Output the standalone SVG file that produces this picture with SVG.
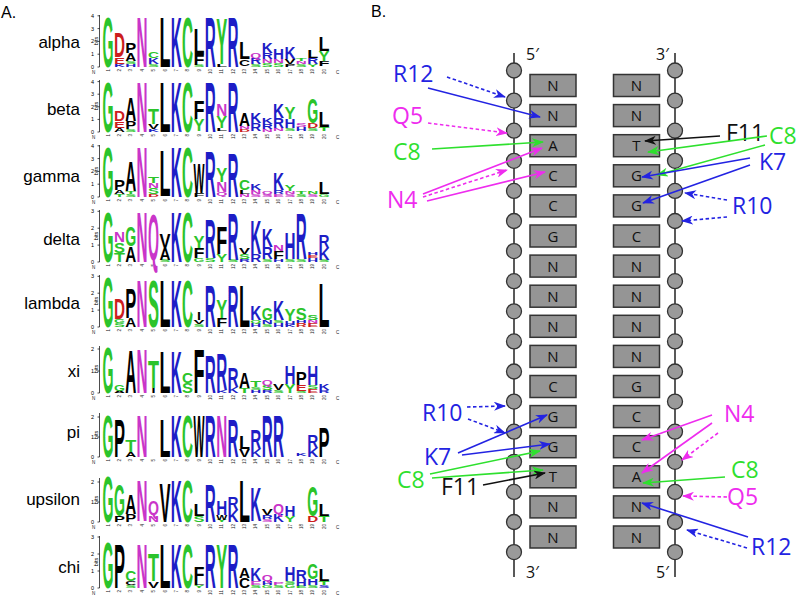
<svg xmlns="http://www.w3.org/2000/svg" xmlns:xlink="http://www.w3.org/1999/xlink" width="800" height="602" viewBox="0 0 800 602">
<style>
.lg text{font-family:"Liberation Sans",Arial,sans-serif;font-weight:bold;font-size:13.97px}
.g{fill:#2bc42b}.m{fill:#c935c9}.b{fill:#1d1dc6}.r{fill:#cc1d1d}.k{fill:#000}
.rl{font-family:"Liberation Sans",Arial,sans-serif;font-size:17px;fill:#000;text-anchor:end}
.ax{stroke:#000;stroke-width:0.7;fill:none}
.tl{font-family:"Liberation Sans",Arial,sans-serif;font-size:5.5px;fill:#000;text-anchor:end}
.pn text{font-family:"Liberation Sans",Arial,sans-serif;font-size:4.5px;fill:#222;text-anchor:end}
.pl{font-family:"Liberation Sans",Arial,sans-serif;font-size:16px;fill:#000}
.bb{stroke:#222;stroke-width:1.5}
.nt{fill:#9a9a9a;stroke:#333;stroke-width:1.3}
.bx{fill:#959595;stroke:#333;stroke-width:1.5}
.bt{font-family:"Open Sans","Liberation Sans",sans-serif;font-size:15px;fill:#111;text-anchor:middle}
.pr{font-family:"Open Sans","Liberation Sans",sans-serif;font-size:16px;fill:#111}
.lb{font-family:"Open Sans","Liberation Sans",sans-serif;font-size:23px}
.cb{fill:#2323e2}.cm{fill:#ee2cee}.cg{fill:#2ee02e}.ck{fill:#111}
.s{fill:none;stroke-width:1.6}
.d{stroke-dasharray:3.5 2.5}
.sb{stroke:#2323e2}.sm{stroke:#ee2cee}.sg{stroke:#2ee02e}.sk{stroke:#111}
</style>
<defs>
<marker id="ab" viewBox="0 0 12 9" refX="11" refY="4.5" markerWidth="12" markerHeight="9" markerUnits="userSpaceOnUse" orient="auto"><path d="M0,0 L12,4.5 L0,9 L3.5,4.5z" fill="#2323e2"/></marker>
<marker id="am" viewBox="0 0 12 9" refX="11" refY="4.5" markerWidth="12" markerHeight="9" markerUnits="userSpaceOnUse" orient="auto"><path d="M0,0 L12,4.5 L0,9 L3.5,4.5z" fill="#ee2cee"/></marker>
<marker id="ag" viewBox="0 0 12 9" refX="11" refY="4.5" markerWidth="12" markerHeight="9" markerUnits="userSpaceOnUse" orient="auto"><path d="M0,0 L12,4.5 L0,9 L3.5,4.5z" fill="#2ee02e"/></marker>
<marker id="ak" viewBox="0 0 12 9" refX="11" refY="4.5" markerWidth="12" markerHeight="9" markerUnits="userSpaceOnUse" orient="auto"><path d="M0,0 L12,4.5 L0,9 L3.5,4.5z" fill="#111"/></marker>
<g id="pn" class="pn">
<text transform="translate(109.6,2) rotate(-90)">1</text>
<text transform="translate(121,2) rotate(-90)">2</text>
<text transform="translate(132.3,2) rotate(-90)">3</text>
<text transform="translate(143.7,2) rotate(-90)">4</text>
<text transform="translate(155.1,2) rotate(-90)">5</text>
<text transform="translate(166.5,2) rotate(-90)">6</text>
<text transform="translate(177.8,2) rotate(-90)">7</text>
<text transform="translate(189.2,2) rotate(-90)">8</text>
<text transform="translate(200.6,2) rotate(-90)">9</text>
<text transform="translate(211.9,2) rotate(-90)">10</text>
<text transform="translate(223.3,2) rotate(-90)">11</text>
<text transform="translate(234.7,2) rotate(-90)">12</text>
<text transform="translate(246,2) rotate(-90)">13</text>
<text transform="translate(257.4,2) rotate(-90)">14</text>
<text transform="translate(268.8,2) rotate(-90)">15</text>
<text transform="translate(280.2,2) rotate(-90)">16</text>
<text transform="translate(291.5,2) rotate(-90)">17</text>
<text transform="translate(302.9,2) rotate(-90)">18</text>
<text transform="translate(314.3,2) rotate(-90)">19</text>
<text transform="translate(325.6,2) rotate(-90)">20</text>
<text x="92" y="6.5" style="text-anchor:start;font-size:4.5px">N</text>
<text x="336" y="7" style="text-anchor:start;font-size:4.5px">C</text>
</g>
</defs>
<rect width="800" height="602" fill="#fff"/>
<text class="pl" x="1" y="18">A.</text>
<text class="pl" x="371" y="17">B.</text>

<!-- Panel A row labels -->
<text class="rl" x="80" y="47.5">alpha</text>
<text class="rl" x="80" y="115">beta</text>
<text class="rl" x="80" y="182">gamma</text>
<text class="rl" x="80" y="245">delta</text>
<text class="rl" x="80" y="308.5">lambda</text>
<text class="rl" x="80" y="377">xi</text>
<text class="rl" x="80" y="438">pi</text>
<text class="rl" x="80" y="505">upsilon</text>
<text class="rl" x="80" y="573">chi</text>

<!-- axes -->
<g id="axes">
<path class="ax" d="M99.5,67V15M97.5,67h2M97.5,54.2h2M97.5,41.4h2M97.5,28.6h2M97.5,15.8h2"/>
<text class="tl" x="94" y="69">0</text><text class="tl" x="94" y="56.2">1</text><text class="tl" x="94" y="43.4">2</text><text class="tl" x="94" y="30.6">3</text><text class="tl" x="94" y="17.8">4</text>
<text class="tl" transform="translate(97.5,41) rotate(-90)" style="text-anchor:middle">bits</text>
<path class="ax" d="M99.5,132V80M97.5,132h2M97.5,119.4h2M97.5,106.8h2M97.5,94.2h2M97.5,81.6h2"/>
<text class="tl" x="94" y="134">0</text><text class="tl" x="94" y="121.4">1</text><text class="tl" x="94" y="108.8">2</text><text class="tl" x="94" y="96.2">3</text><text class="tl" x="94" y="83.6">4</text>
<text class="tl" transform="translate(97.5,106) rotate(-90)" style="text-anchor:middle">bits</text>
<path class="ax" d="M99.5,197V145M97.5,197h2M97.5,184.2h2M97.5,171.4h2M97.5,158.6h2M97.5,145.8h2"/>
<text class="tl" x="94" y="199">0</text><text class="tl" x="94" y="186.2">1</text><text class="tl" x="94" y="173.4">2</text><text class="tl" x="94" y="160.6">3</text><text class="tl" x="94" y="147.8">4</text>
<text class="tl" transform="translate(97.5,171) rotate(-90)" style="text-anchor:middle">bits</text>
<path class="ax" d="M99.5,262V210M97.5,262h2M97.5,245.1h2M97.5,228.2h2M97.5,211.3h2"/>
<text class="tl" x="94" y="264">0</text><text class="tl" x="94" y="247.1">1</text><text class="tl" x="94" y="230.2">2</text><text class="tl" x="94" y="213.3">3</text>
<text class="tl" transform="translate(97.5,236) rotate(-90)" style="text-anchor:middle">bits</text>
<path class="ax" d="M99.5,327V275M97.5,327h2M97.5,310.1h2M97.5,293.2h2M97.5,276.3h2"/>
<text class="tl" x="94" y="329">0</text><text class="tl" x="94" y="312.1">1</text><text class="tl" x="94" y="295.2">2</text><text class="tl" x="94" y="278.3">3</text>
<text class="tl" transform="translate(97.5,301) rotate(-90)" style="text-anchor:middle">bits</text>
<path class="ax" d="M99.5,393V346M97.5,393h2M97.5,371h2M97.5,349h2"/>
<text class="tl" x="94" y="395">0</text><text class="tl" x="94" y="373">1</text><text class="tl" x="94" y="351">2</text>
<text class="tl" transform="translate(97.5,369) rotate(-90)" style="text-anchor:middle">bits</text>
<path class="ax" d="M99.5,457V413M97.5,457h2M97.5,437h2M97.5,417h2"/>
<text class="tl" x="94" y="459">0</text><text class="tl" x="94" y="439">1</text><text class="tl" x="94" y="419">2</text>
<text class="tl" transform="translate(97.5,435) rotate(-90)" style="text-anchor:middle">bits</text>
<path class="ax" d="M99.5,522V478M97.5,522h2M97.5,502h2M97.5,482h2"/>
<text class="tl" x="94" y="524">0</text><text class="tl" x="94" y="504">1</text><text class="tl" x="94" y="484">2</text>
<text class="tl" transform="translate(97.5,500) rotate(-90)" style="text-anchor:middle">bits</text>
<path class="ax" d="M99.5,588V536M97.5,588h2M97.5,571h2M97.5,554h2M97.5,537h2"/>
<text class="tl" x="94" y="590">0</text><text class="tl" x="94" y="573">1</text><text class="tl" x="94" y="556">2</text><text class="tl" x="94" y="539">3</text>
<text class="tl" transform="translate(97.5,562) rotate(-90)" style="text-anchor:middle">bits</text>
</g>
<use xlink:href="#pn" href="#pn" transform="translate(0,67)"/>
<use xlink:href="#pn" href="#pn" transform="translate(0,132)"/>
<use xlink:href="#pn" href="#pn" transform="translate(0,197)"/>
<use xlink:href="#pn" href="#pn" transform="translate(0,262)"/>
<use xlink:href="#pn" href="#pn" transform="translate(0,327)"/>
<use xlink:href="#pn" href="#pn" transform="translate(0,393)"/>
<use xlink:href="#pn" href="#pn" transform="translate(0,457)"/>
<use xlink:href="#pn" href="#pn" transform="translate(0,522)"/>
<use xlink:href="#pn" href="#pn" transform="translate(0,588)"/>

<!-- alpha -->
<g id="logo-alpha" class="lg">
<text class="g" textLength="11" lengthAdjust="spacingAndGlyphs" transform="matrix(1 0 0 5.1 102.5 67)">G</text>
<text class="b" textLength="11" lengthAdjust="spacingAndGlyphs" transform="matrix(1 0 0 0.3 113.9 67)">K</text>
<text class="r" textLength="11" lengthAdjust="spacingAndGlyphs" transform="matrix(1 0 0 0.7 113.9 64)">E</text>
<text class="r" textLength="11" lengthAdjust="spacingAndGlyphs" transform="matrix(1 0 0 2.5 113.9 57)">D</text>
<text class="b" textLength="11" lengthAdjust="spacingAndGlyphs" transform="matrix(1 0 0 0.3 125.2 67)">H</text>
<text class="g" textLength="11" lengthAdjust="spacingAndGlyphs" transform="matrix(1 0 0 0.3 125.2 64)">S</text>
<text class="k" textLength="11" lengthAdjust="spacingAndGlyphs" transform="matrix(1 0 0 0.8 125.2 61)">A</text>
<text class="k" textLength="11" lengthAdjust="spacingAndGlyphs" transform="matrix(1 0 0 1.0 125.2 53)">P</text>
<text class="m" textLength="11" lengthAdjust="spacingAndGlyphs" transform="matrix(1 0 0 5.1 136.6 67)">N</text>
<text class="g" textLength="11" lengthAdjust="spacingAndGlyphs" transform="matrix(1 0 0 0.3 148 67)">S</text>
<text class="b" textLength="11" lengthAdjust="spacingAndGlyphs" transform="matrix(1 0 0 0.6 148 64)">K</text>
<text class="g" textLength="11" lengthAdjust="spacingAndGlyphs" transform="matrix(1 0 0 0.7 148 58)">C</text>
<text class="k" textLength="11" lengthAdjust="spacingAndGlyphs" transform="matrix(1 0 0 5.1 159.4 67)">L</text>
<text class="b" textLength="11" lengthAdjust="spacingAndGlyphs" transform="matrix(1 0 0 5.1 170.7 67)">K</text>
<text class="g" textLength="11" lengthAdjust="spacingAndGlyphs" transform="matrix(1 0 0 5.1 182.1 67)">C</text>
<text class="g" textLength="11" lengthAdjust="spacingAndGlyphs" transform="matrix(1 0 0 0.2 193.5 67)">S</text>
<text class="k" textLength="11" lengthAdjust="spacingAndGlyphs" transform="matrix(1 0 0 1.0 193.5 65)">F</text>
<text class="k" textLength="11" lengthAdjust="spacingAndGlyphs" transform="matrix(1 0 0 2.6 193.5 55)">L</text>
<text class="b" textLength="11" lengthAdjust="spacingAndGlyphs" transform="matrix(1 0 0 5.0 204.8 67)">R</text>
<text class="k" textLength="11" lengthAdjust="spacingAndGlyphs" transform="matrix(1 0 0 0.3 216.2 67)">L</text>
<text class="g" textLength="11" lengthAdjust="spacingAndGlyphs" transform="matrix(1 0 0 4.6 216.2 64)">Y</text>
<text class="b" textLength="11" lengthAdjust="spacingAndGlyphs" transform="matrix(1 0 0 5.0 227.6 67)">R</text>
<text class="k" textLength="11" lengthAdjust="spacingAndGlyphs" transform="matrix(1 0 0 0.7 238.9 66)">C</text>
<text class="k" textLength="11" lengthAdjust="spacingAndGlyphs" transform="matrix(1 0 0 1.7 238.9 59)">L</text>
<text class="g" textLength="11" lengthAdjust="spacingAndGlyphs" transform="matrix(1 0 0 0.3 250.3 67)">S</text>
<text class="b" textLength="11" lengthAdjust="spacingAndGlyphs" transform="matrix(1 0 0 0.6 250.3 64)">R</text>
<text class="m" textLength="11" lengthAdjust="spacingAndGlyphs" transform="matrix(1 0 0 0.5 250.3 58)">Q</text>
<text class="g" textLength="11" lengthAdjust="spacingAndGlyphs" transform="matrix(1 0 0 0.4 261.7 67)">S</text>
<text class="m" textLength="11" lengthAdjust="spacingAndGlyphs" transform="matrix(1 0 0 0.4 261.7 63)">N</text>
<text class="b" textLength="11" lengthAdjust="spacingAndGlyphs" transform="matrix(1 0 0 0.6 261.7 59)">R</text>
<text class="b" textLength="11" lengthAdjust="spacingAndGlyphs" transform="matrix(1 0 0 1.0 261.7 53)">K</text>
<text class="g" textLength="11" lengthAdjust="spacingAndGlyphs" transform="matrix(1 0 0 0.4 273.1 67)">S</text>
<text class="m" textLength="11" lengthAdjust="spacingAndGlyphs" transform="matrix(1 0 0 0.4 273.1 63)">N</text>
<text class="b" textLength="11" lengthAdjust="spacingAndGlyphs" transform="matrix(1 0 0 1.0 273.1 59)">H</text>
<text class="k" textLength="11" lengthAdjust="spacingAndGlyphs" transform="matrix(1 0 0 0.3 284.4 67)">P</text>
<text class="k" textLength="11" lengthAdjust="spacingAndGlyphs" transform="matrix(1 0 0 0.5 284.4 64)">V</text>
<text class="b" textLength="11" lengthAdjust="spacingAndGlyphs" transform="matrix(1 0 0 1.2 284.4 59)">K</text>
<text class="g" textLength="11" lengthAdjust="spacingAndGlyphs" transform="matrix(1 0 0 0.3 295.8 67)">S</text>
<text class="m" textLength="11" lengthAdjust="spacingAndGlyphs" transform="matrix(1 0 0 0.3 295.8 64)">N</text>
<text class="g" textLength="11" lengthAdjust="spacingAndGlyphs" transform="matrix(1 0 0 0.3 295.8 61)">T</text>
<text class="g" textLength="11" lengthAdjust="spacingAndGlyphs" transform="matrix(1 0 0 0.3 307.2 67)">Y</text>
<text class="b" textLength="11" lengthAdjust="spacingAndGlyphs" transform="matrix(1 0 0 0.6 307.2 64)">R</text>
<text class="k" textLength="11" lengthAdjust="spacingAndGlyphs" transform="matrix(1 0 0 0.8 307.2 58)">L</text>
<text class="k" textLength="11" lengthAdjust="spacingAndGlyphs" transform="matrix(1 0 0 0.5 318.5 66)">F</text>
<text class="g" textLength="11" lengthAdjust="spacingAndGlyphs" transform="matrix(1 0 0 1.0 318.5 61)">Y</text>
<text class="k" textLength="11" lengthAdjust="spacingAndGlyphs" transform="matrix(1 0 0 1.4 318.5 51)">L</text>
</g>

<!-- beta -->
<g id="logo-beta" class="lg">
<text class="g" textLength="11" lengthAdjust="spacingAndGlyphs" transform="matrix(1 0 0 5.0 102.5 132)">G</text>
<text class="k" textLength="11" lengthAdjust="spacingAndGlyphs" transform="matrix(1 0 0 0.4 113.9 132)">A</text>
<text class="r" textLength="11" lengthAdjust="spacingAndGlyphs" transform="matrix(1 0 0 0.7 113.9 128)">E</text>
<text class="r" textLength="11" lengthAdjust="spacingAndGlyphs" transform="matrix(1 0 0 1.0 113.9 121)">D</text>
<text class="g" textLength="11" lengthAdjust="spacingAndGlyphs" transform="matrix(1 0 0 0.3 125.2 132)">S</text>
<text class="k" textLength="11" lengthAdjust="spacingAndGlyphs" transform="matrix(1 0 0 0.8 125.2 129)">P</text>
<text class="k" textLength="11" lengthAdjust="spacingAndGlyphs" transform="matrix(1 0 0 2.4 125.2 121)">A</text>
<text class="m" textLength="11" lengthAdjust="spacingAndGlyphs" transform="matrix(1 0 0 5.0 136.6 132)">N</text>
<text class="b" textLength="11" lengthAdjust="spacingAndGlyphs" transform="matrix(1 0 0 0.3 148 132)">K</text>
<text class="k" textLength="11" lengthAdjust="spacingAndGlyphs" transform="matrix(1 0 0 0.5 148 129)">V</text>
<text class="g" textLength="11" lengthAdjust="spacingAndGlyphs" transform="matrix(1 0 0 1.6 148 124)">T</text>
<text class="k" textLength="11" lengthAdjust="spacingAndGlyphs" transform="matrix(1 0 0 5.0 159.4 132)">L</text>
<text class="b" textLength="11" lengthAdjust="spacingAndGlyphs" transform="matrix(1 0 0 5.0 170.7 132)">K</text>
<text class="g" textLength="11" lengthAdjust="spacingAndGlyphs" transform="matrix(1 0 0 5.0 182.1 132)">C</text>
<text class="g" textLength="11" lengthAdjust="spacingAndGlyphs" transform="matrix(1 0 0 1.2 193.5 131)">Y</text>
<text class="k" textLength="11" lengthAdjust="spacingAndGlyphs" transform="matrix(1 0 0 1.8 193.5 119)">F</text>
<text class="b" textLength="11" lengthAdjust="spacingAndGlyphs" transform="matrix(1 0 0 5.0 204.8 132)">R</text>
<text class="k" textLength="11" lengthAdjust="spacingAndGlyphs" transform="matrix(1 0 0 0.3 216.2 131)">L</text>
<text class="g" textLength="11" lengthAdjust="spacingAndGlyphs" transform="matrix(1 0 0 1.2 216.2 128)">Y</text>
<text class="m" textLength="11" lengthAdjust="spacingAndGlyphs" transform="matrix(1 0 0 1.2 216.2 116)">N</text>
<text class="b" textLength="11" lengthAdjust="spacingAndGlyphs" transform="matrix(1 0 0 5.0 227.6 132)">R</text>
<text class="r" textLength="11" lengthAdjust="spacingAndGlyphs" transform="matrix(1 0 0 0.3 238.9 132)">D</text>
<text class="m" textLength="11" lengthAdjust="spacingAndGlyphs" transform="matrix(1 0 0 0.3 238.9 129)">N</text>
<text class="k" textLength="11" lengthAdjust="spacingAndGlyphs" transform="matrix(1 0 0 1.3 238.9 126)">A</text>
<text class="b" textLength="11" lengthAdjust="spacingAndGlyphs" transform="matrix(1 0 0 0.8 250.3 131)">R</text>
<text class="b" textLength="11" lengthAdjust="spacingAndGlyphs" transform="matrix(1 0 0 1.0 250.3 123)">K</text>
<text class="m" textLength="11" lengthAdjust="spacingAndGlyphs" transform="matrix(1 0 0 0.3 261.7 132)">N</text>
<text class="b" textLength="11" lengthAdjust="spacingAndGlyphs" transform="matrix(1 0 0 0.5 261.7 129)">R</text>
<text class="b" textLength="11" lengthAdjust="spacingAndGlyphs" transform="matrix(1 0 0 0.7 261.7 124)">K</text>
<text class="m" textLength="11" lengthAdjust="spacingAndGlyphs" transform="matrix(1 0 0 0.3 273.1 131)">N</text>
<text class="b" textLength="11" lengthAdjust="spacingAndGlyphs" transform="matrix(1 0 0 1.0 273.1 128)">R</text>
<text class="b" textLength="11" lengthAdjust="spacingAndGlyphs" transform="matrix(1 0 0 1.5 273.1 118)">K</text>
<text class="g" textLength="11" lengthAdjust="spacingAndGlyphs" transform="matrix(1 0 0 0.3 284.4 131)">S</text>
<text class="b" textLength="11" lengthAdjust="spacingAndGlyphs" transform="matrix(1 0 0 0.9 284.4 128)">H</text>
<text class="g" textLength="11" lengthAdjust="spacingAndGlyphs" transform="matrix(1 0 0 1.2 284.4 119)">Y</text>
<text class="b" textLength="11" lengthAdjust="spacingAndGlyphs" transform="matrix(1 0 0 0.4 295.8 131)">H</text>
<text class="m" textLength="11" lengthAdjust="spacingAndGlyphs" transform="matrix(1 0 0 0.4 295.8 127)">S</text>
<text class="g" textLength="11" lengthAdjust="spacingAndGlyphs" transform="matrix(1 0 0 0.3 307.2 131)">S</text>
<text class="r" textLength="11" lengthAdjust="spacingAndGlyphs" transform="matrix(1 0 0 0.5 307.2 128)">D</text>
<text class="g" textLength="11" lengthAdjust="spacingAndGlyphs" transform="matrix(1 0 0 2.5 307.2 123)">G</text>
<text class="g" textLength="11" lengthAdjust="spacingAndGlyphs" transform="matrix(1 0 0 0.4 318.5 131)">T</text>
<text class="k" textLength="11" lengthAdjust="spacingAndGlyphs" transform="matrix(1 0 0 1.6 318.5 127)">L</text>
</g>

<!-- gamma -->
<g id="logo-gamma" class="lg">
<text class="g" textLength="11" lengthAdjust="spacingAndGlyphs" transform="matrix(1 0 0 5.1 102.5 197)">G</text>
<text class="g" textLength="11" lengthAdjust="spacingAndGlyphs" transform="matrix(1 0 0 0.3 113.9 197)">T</text>
<text class="k" textLength="11" lengthAdjust="spacingAndGlyphs" transform="matrix(1 0 0 0.4 113.9 194)">A</text>
<text class="k" textLength="11" lengthAdjust="spacingAndGlyphs" transform="matrix(1 0 0 1.0 113.9 190)">P</text>
<text class="g" textLength="11" lengthAdjust="spacingAndGlyphs" transform="matrix(1 0 0 0.3 125.2 197)">S</text>
<text class="g" textLength="11" lengthAdjust="spacingAndGlyphs" transform="matrix(1 0 0 0.3 125.2 194)">T</text>
<text class="k" textLength="11" lengthAdjust="spacingAndGlyphs" transform="matrix(1 0 0 3.0 125.2 191)">A</text>
<text class="m" textLength="11" lengthAdjust="spacingAndGlyphs" transform="matrix(1 0 0 5.1 136.6 197)">N</text>
<text class="r" textLength="11" lengthAdjust="spacingAndGlyphs" transform="matrix(1 0 0 0.3 148 197)">D</text>
<text class="g" textLength="11" lengthAdjust="spacingAndGlyphs" transform="matrix(1 0 0 0.6 148 194)">S</text>
<text class="m" textLength="11" lengthAdjust="spacingAndGlyphs" transform="matrix(1 0 0 0.5 148 188)">N</text>
<text class="g" textLength="11" lengthAdjust="spacingAndGlyphs" transform="matrix(1 0 0 0.7 148 183)">T</text>
<text class="k" textLength="11" lengthAdjust="spacingAndGlyphs" transform="matrix(1 0 0 4.6 159.4 196)">L</text>
<text class="b" textLength="11" lengthAdjust="spacingAndGlyphs" transform="matrix(1 0 0 5.1 170.7 197)">K</text>
<text class="g" textLength="11" lengthAdjust="spacingAndGlyphs" transform="matrix(1 0 0 5.1 182.1 197)">C</text>
<text class="k" textLength="11" lengthAdjust="spacingAndGlyphs" transform="matrix(1 0 0 0.4 193.5 197)">F</text>
<text class="k" textLength="11" lengthAdjust="spacingAndGlyphs" transform="matrix(1 0 0 3.0 193.5 193)">W</text>
<text class="b" textLength="11" lengthAdjust="spacingAndGlyphs" transform="matrix(1 0 0 4.7 204.8 197)">R</text>
<text class="m" textLength="11" lengthAdjust="spacingAndGlyphs" transform="matrix(1 0 0 0.4 216.2 196)">Q</text>
<text class="m" textLength="11" lengthAdjust="spacingAndGlyphs" transform="matrix(1 0 0 1.0 216.2 192)">N</text>
<text class="g" textLength="11" lengthAdjust="spacingAndGlyphs" transform="matrix(1 0 0 1.5 216.2 182)">Y</text>
<text class="b" textLength="11" lengthAdjust="spacingAndGlyphs" transform="matrix(1 0 0 4.5 227.6 197)">R</text>
<text class="m" textLength="11" lengthAdjust="spacingAndGlyphs" transform="matrix(1 0 0 0.3 238.9 197)">N</text>
<text class="k" textLength="11" lengthAdjust="spacingAndGlyphs" transform="matrix(1 0 0 0.4 238.9 194)">L</text>
<text class="g" textLength="11" lengthAdjust="spacingAndGlyphs" transform="matrix(1 0 0 1.0 238.9 190)">C</text>
<text class="m" textLength="11" lengthAdjust="spacingAndGlyphs" transform="matrix(1 0 0 0.3 250.3 197)">S</text>
<text class="m" textLength="11" lengthAdjust="spacingAndGlyphs" transform="matrix(1 0 0 0.4 250.3 194)">N</text>
<text class="b" textLength="11" lengthAdjust="spacingAndGlyphs" transform="matrix(1 0 0 0.7 250.3 190)">K</text>
<text class="m" textLength="11" lengthAdjust="spacingAndGlyphs" transform="matrix(1 0 0 0.3 261.7 197)">S</text>
<text class="m" textLength="11" lengthAdjust="spacingAndGlyphs" transform="matrix(1 0 0 0.3 261.7 194)">Q</text>
<text class="m" textLength="11" lengthAdjust="spacingAndGlyphs" transform="matrix(1 0 0 0.3 273.1 197)">E</text>
<text class="b" textLength="11" lengthAdjust="spacingAndGlyphs" transform="matrix(1 0 0 0.4 273.1 194)">R</text>
<text class="b" textLength="11" lengthAdjust="spacingAndGlyphs" transform="matrix(1 0 0 1.7 273.1 190)">K</text>
<text class="m" textLength="11" lengthAdjust="spacingAndGlyphs" transform="matrix(1 0 0 0.3 284.4 197)">S</text>
<text class="m" textLength="11" lengthAdjust="spacingAndGlyphs" transform="matrix(1 0 0 0.3 284.4 194)">N</text>
<text class="g" textLength="11" lengthAdjust="spacingAndGlyphs" transform="matrix(1 0 0 0.6 284.4 191)">Y</text>
<text class="g" textLength="11" lengthAdjust="spacingAndGlyphs" transform="matrix(1 0 0 0.3 295.8 197)">S</text>
<text class="g" textLength="11" lengthAdjust="spacingAndGlyphs" transform="matrix(1 0 0 0.3 295.8 194)">T</text>
<text class="m" textLength="11" lengthAdjust="spacingAndGlyphs" transform="matrix(1 0 0 0.3 307.2 197)">S</text>
<text class="g" textLength="11" lengthAdjust="spacingAndGlyphs" transform="matrix(1 0 0 0.3 307.2 194)">N</text>
<text class="g" textLength="11" lengthAdjust="spacingAndGlyphs" transform="matrix(1 0 0 0.3 318.5 197)">G</text>
<text class="k" textLength="11" lengthAdjust="spacingAndGlyphs" transform="matrix(1 0 0 1.2 318.5 194)">L</text>
</g>

<!-- delta -->
<g id="logo-delta" class="lg">
<text class="g" textLength="11" lengthAdjust="spacingAndGlyphs" transform="matrix(1 0 0 5.0 102.5 262)">G</text>
<text class="g" textLength="11" lengthAdjust="spacingAndGlyphs" transform="matrix(1 0 0 0.9 113.9 262)">T</text>
<text class="g" textLength="11" lengthAdjust="spacingAndGlyphs" transform="matrix(1 0 0 1.1 113.9 253)">S</text>
<text class="m" textLength="11" lengthAdjust="spacingAndGlyphs" transform="matrix(1 0 0 1.1 113.9 242)">N</text>
<text class="k" textLength="11" lengthAdjust="spacingAndGlyphs" transform="matrix(1 0 0 1.6 125.2 262)">A</text>
<text class="g" textLength="11" lengthAdjust="spacingAndGlyphs" transform="matrix(1 0 0 2.0 125.2 246)">G</text>
<text class="m" textLength="11" lengthAdjust="spacingAndGlyphs" transform="matrix(1 0 0 5.0 136.6 262)">N</text>
<text class="m" textLength="11" lengthAdjust="spacingAndGlyphs" transform="matrix(1 0 0 4.7 148 260)">Q</text>
<text class="g" textLength="11" lengthAdjust="spacingAndGlyphs" transform="matrix(1 0 0 0.2 159.4 262)">S</text>
<text class="k" textLength="11" lengthAdjust="spacingAndGlyphs" transform="matrix(1 0 0 1.2 159.4 260)">A</text>
<text class="k" textLength="11" lengthAdjust="spacingAndGlyphs" transform="matrix(1 0 0 1.5 159.4 248)">V</text>
<text class="b" textLength="11" lengthAdjust="spacingAndGlyphs" transform="matrix(1 0 0 5.0 170.7 262)">K</text>
<text class="g" textLength="11" lengthAdjust="spacingAndGlyphs" transform="matrix(1 0 0 5.0 182.1 262)">C</text>
<text class="g" textLength="11" lengthAdjust="spacingAndGlyphs" transform="matrix(1 0 0 0.4 193.5 262)">G</text>
<text class="k" textLength="11" lengthAdjust="spacingAndGlyphs" transform="matrix(1 0 0 1.0 193.5 258)">F</text>
<text class="g" textLength="11" lengthAdjust="spacingAndGlyphs" transform="matrix(1 0 0 1.2 193.5 248)">Y</text>
<text class="g" textLength="11" lengthAdjust="spacingAndGlyphs" transform="matrix(1 0 0 0.4 204.8 262)">S</text>
<text class="b" textLength="11" lengthAdjust="spacingAndGlyphs" transform="matrix(1 0 0 4.0 204.8 258)">R</text>
<text class="g" textLength="11" lengthAdjust="spacingAndGlyphs" transform="matrix(1 0 0 0.8 216.2 262)">Y</text>
<text class="k" textLength="11" lengthAdjust="spacingAndGlyphs" transform="matrix(1 0 0 2.8 216.2 254)">F</text>
<text class="g" textLength="11" lengthAdjust="spacingAndGlyphs" transform="matrix(1 0 0 0.2 227.6 262)">S</text>
<text class="b" textLength="11" lengthAdjust="spacingAndGlyphs" transform="matrix(1 0 0 4.8 227.6 260)">R</text>
<text class="b" textLength="11" lengthAdjust="spacingAndGlyphs" transform="matrix(1 0 0 0.3 238.9 262)">R</text>
<text class="g" textLength="11" lengthAdjust="spacingAndGlyphs" transform="matrix(1 0 0 0.5 238.9 259)">S</text>
<text class="k" textLength="11" lengthAdjust="spacingAndGlyphs" transform="matrix(1 0 0 0.7 238.9 254)">V</text>
<text class="b" textLength="11" lengthAdjust="spacingAndGlyphs" transform="matrix(1 0 0 0.8 250.3 262)">R</text>
<text class="b" textLength="11" lengthAdjust="spacingAndGlyphs" transform="matrix(1 0 0 3.4 250.3 254)">K</text>
<text class="g" textLength="11" lengthAdjust="spacingAndGlyphs" transform="matrix(1 0 0 0.3 261.7 262)">S</text>
<text class="b" textLength="11" lengthAdjust="spacingAndGlyphs" transform="matrix(1 0 0 1.2 261.7 259)">R</text>
<text class="b" textLength="11" lengthAdjust="spacingAndGlyphs" transform="matrix(1 0 0 1.8 261.7 247)">K</text>
<text class="b" textLength="11" lengthAdjust="spacingAndGlyphs" transform="matrix(1 0 0 0.3 273.1 262)">H</text>
<text class="k" textLength="11" lengthAdjust="spacingAndGlyphs" transform="matrix(1 0 0 0.8 273.1 259)">F</text>
<text class="m" textLength="11" lengthAdjust="spacingAndGlyphs" transform="matrix(1 0 0 0.6 273.1 251)">N</text>
<text class="g" textLength="11" lengthAdjust="spacingAndGlyphs" transform="matrix(1 0 0 0.3 284.4 262)">S</text>
<text class="b" textLength="11" lengthAdjust="spacingAndGlyphs" transform="matrix(1 0 0 2.6 284.4 259)">H</text>
<text class="g" textLength="11" lengthAdjust="spacingAndGlyphs" transform="matrix(1 0 0 0.3 295.8 262)">S</text>
<text class="b" textLength="11" lengthAdjust="spacingAndGlyphs" transform="matrix(1 0 0 4.6 295.8 259)">R</text>
<text class="b" textLength="11" lengthAdjust="spacingAndGlyphs" transform="matrix(1 0 0 0.4 307.2 262)">H</text>
<text class="r" textLength="11" lengthAdjust="spacingAndGlyphs" transform="matrix(1 0 0 0.3 307.2 258)">E</text>
<text class="b" textLength="11" lengthAdjust="spacingAndGlyphs" transform="matrix(1 0 0 0.3 307.2 255)">H</text>
<text class="g" textLength="11" lengthAdjust="spacingAndGlyphs" transform="matrix(1 0 0 0.2 318.5 262)">S</text>
<text class="b" textLength="11" lengthAdjust="spacingAndGlyphs" transform="matrix(1 0 0 1.2 318.5 260)">K</text>
<text class="b" textLength="11" lengthAdjust="spacingAndGlyphs" transform="matrix(1 0 0 1.3 318.5 248)">R</text>
</g>

<!-- lambda -->
<g id="logo-lambda" class="lg">
<text class="g" textLength="11" lengthAdjust="spacingAndGlyphs" transform="matrix(1 0 0 5.0 102.5 327)">G</text>
<text class="g" textLength="11" lengthAdjust="spacingAndGlyphs" transform="matrix(1 0 0 0.4 113.9 327)">S</text>
<text class="g" textLength="11" lengthAdjust="spacingAndGlyphs" transform="matrix(1 0 0 0.4 113.9 323)">G</text>
<text class="r" textLength="11" lengthAdjust="spacingAndGlyphs" transform="matrix(1 0 0 2.1 113.9 319)">D</text>
<text class="k" textLength="11" lengthAdjust="spacingAndGlyphs" transform="matrix(1 0 0 0.9 125.2 327)">A</text>
<text class="k" textLength="11" lengthAdjust="spacingAndGlyphs" transform="matrix(1 0 0 3.0 125.2 318)">P</text>
<text class="m" textLength="11" lengthAdjust="spacingAndGlyphs" transform="matrix(1 0 0 4.8 136.6 327)">N</text>
<text class="g" textLength="11" lengthAdjust="spacingAndGlyphs" transform="matrix(1 0 0 4.8 148 327)">S</text>
<text class="k" textLength="11" lengthAdjust="spacingAndGlyphs" transform="matrix(1 0 0 4.8 159.4 327)">L</text>
<text class="b" textLength="11" lengthAdjust="spacingAndGlyphs" transform="matrix(1 0 0 4.8 170.7 327)">K</text>
<text class="g" textLength="11" lengthAdjust="spacingAndGlyphs" transform="matrix(1 0 0 4.8 182.1 327)">C</text>
<text class="g" textLength="11" lengthAdjust="spacingAndGlyphs" transform="matrix(1 0 0 0.3 193.5 327)">S</text>
<text class="k" textLength="11" lengthAdjust="spacingAndGlyphs" transform="matrix(1 0 0 0.4 193.5 324)">V</text>
<text class="k" textLength="4" lengthAdjust="spacingAndGlyphs" transform="matrix(1 0 0 0.8 197 320)">I</text>
<text class="b" textLength="11" lengthAdjust="spacingAndGlyphs" transform="matrix(1 0 0 4.3 204.8 327)">R</text>
<text class="k" textLength="11" lengthAdjust="spacingAndGlyphs" transform="matrix(1 0 0 0.9 216.2 327)">F</text>
<text class="g" textLength="11" lengthAdjust="spacingAndGlyphs" transform="matrix(1 0 0 1.8 216.2 318)">Y</text>
<text class="b" textLength="11" lengthAdjust="spacingAndGlyphs" transform="matrix(1 0 0 4.3 227.6 327)">R</text>
<text class="k" textLength="11" lengthAdjust="spacingAndGlyphs" transform="matrix(1 0 0 4.3 238.9 327)">L</text>
<text class="b" textLength="11" lengthAdjust="spacingAndGlyphs" transform="matrix(1 0 0 0.4 250.3 327)">H</text>
<text class="g" textLength="11" lengthAdjust="spacingAndGlyphs" transform="matrix(1 0 0 0.3 250.3 323)">Q</text>
<text class="b" textLength="11" lengthAdjust="spacingAndGlyphs" transform="matrix(1 0 0 1.5 250.3 320)">K</text>
<text class="g" textLength="11" lengthAdjust="spacingAndGlyphs" transform="matrix(1 0 0 0.3 261.7 327)">S</text>
<text class="b" textLength="11" lengthAdjust="spacingAndGlyphs" transform="matrix(1 0 0 0.4 261.7 324)">N</text>
<text class="g" textLength="11" lengthAdjust="spacingAndGlyphs" transform="matrix(1 0 0 1.2 261.7 320)">G</text>
<text class="b" textLength="11" lengthAdjust="spacingAndGlyphs" transform="matrix(1 0 0 0.4 273.1 327)">H</text>
<text class="g" textLength="11" lengthAdjust="spacingAndGlyphs" transform="matrix(1 0 0 0.3 273.1 323)">S</text>
<text class="b" textLength="11" lengthAdjust="spacingAndGlyphs" transform="matrix(1 0 0 2.0 273.1 320)">K</text>
<text class="b" textLength="11" lengthAdjust="spacingAndGlyphs" transform="matrix(1 0 0 0.2 284.4 327)">K</text>
<text class="b" textLength="11" lengthAdjust="spacingAndGlyphs" transform="matrix(1 0 0 0.4 284.4 325)">H</text>
<text class="g" textLength="11" lengthAdjust="spacingAndGlyphs" transform="matrix(1 0 0 1.2 284.4 321)">Y</text>
<text class="r" textLength="11" lengthAdjust="spacingAndGlyphs" transform="matrix(1 0 0 0.4 295.8 327)">R</text>
<text class="b" textLength="11" lengthAdjust="spacingAndGlyphs" transform="matrix(1 0 0 0.3 295.8 323)">H</text>
<text class="g" textLength="11" lengthAdjust="spacingAndGlyphs" transform="matrix(1 0 0 1.2 295.8 320)">S</text>
<text class="r" textLength="11" lengthAdjust="spacingAndGlyphs" transform="matrix(1 0 0 0.4 307.2 327)">E</text>
<text class="m" textLength="11" lengthAdjust="spacingAndGlyphs" transform="matrix(1 0 0 0.3 307.2 323)">N</text>
<text class="g" textLength="11" lengthAdjust="spacingAndGlyphs" transform="matrix(1 0 0 0.5 307.2 320)">S</text>
<text class="k" textLength="11" lengthAdjust="spacingAndGlyphs" transform="matrix(1 0 0 4.5 318.5 327)">L</text>
</g>

<!-- xi -->
<g id="logo-xi" class="lg">
<text class="g" textLength="11" lengthAdjust="spacingAndGlyphs" transform="matrix(1 0 0 4.6 102.5 393)">G</text>
<text class="k" textLength="11" lengthAdjust="spacingAndGlyphs" transform="matrix(1 0 0 0.2 113.9 393)">A</text>
<text class="g" textLength="11" lengthAdjust="spacingAndGlyphs" transform="matrix(1 0 0 0.6 113.9 391)">G</text>
<text class="k" textLength="11" lengthAdjust="spacingAndGlyphs" transform="matrix(1 0 0 4.4 125.2 393)">A</text>
<text class="m" textLength="11" lengthAdjust="spacingAndGlyphs" transform="matrix(1 0 0 4.5 136.6 393)">N</text>
<text class="k" textLength="4" lengthAdjust="spacingAndGlyphs" transform="matrix(1 0 0 0.5 151.5 393)">I</text>
<text class="g" textLength="11" lengthAdjust="spacingAndGlyphs" transform="matrix(1 0 0 2.8 148 388)">T</text>
<text class="k" textLength="11" lengthAdjust="spacingAndGlyphs" transform="matrix(1 0 0 4.2 159.4 393)">L</text>
<text class="b" textLength="11" lengthAdjust="spacingAndGlyphs" transform="matrix(1 0 0 4.2 170.7 393)">K</text>
<text class="g" textLength="11" lengthAdjust="spacingAndGlyphs" transform="matrix(1 0 0 1.0 182.1 393)">S</text>
<text class="g" textLength="11" lengthAdjust="spacingAndGlyphs" transform="matrix(1 0 0 1.1 182.1 383)">C</text>
<text class="k" textLength="11" lengthAdjust="spacingAndGlyphs" transform="matrix(1 0 0 4.5 193.5 393)">F</text>
<text class="b" textLength="11" lengthAdjust="spacingAndGlyphs" transform="matrix(1 0 0 3.9 204.8 393)">R</text>
<text class="b" textLength="11" lengthAdjust="spacingAndGlyphs" transform="matrix(1 0 0 0.3 216.2 393)">K</text>
<text class="b" textLength="11" lengthAdjust="spacingAndGlyphs" transform="matrix(1 0 0 3.7 216.2 390)">R</text>
<text class="b" textLength="11" lengthAdjust="spacingAndGlyphs" transform="matrix(1 0 0 0.6 227.6 393)">K</text>
<text class="b" textLength="11" lengthAdjust="spacingAndGlyphs" transform="matrix(1 0 0 2.0 227.6 387)">R</text>
<text class="g" textLength="11" lengthAdjust="spacingAndGlyphs" transform="matrix(1 0 0 0.5 238.9 393)">T</text>
<text class="k" textLength="11" lengthAdjust="spacingAndGlyphs" transform="matrix(1 0 0 1.6 238.9 388)">A</text>
<text class="b" textLength="11" lengthAdjust="spacingAndGlyphs" transform="matrix(1 0 0 0.3 250.3 393)">H</text>
<text class="g" textLength="11" lengthAdjust="spacingAndGlyphs" transform="matrix(1 0 0 0.3 250.3 390)">S</text>
<text class="g" textLength="11" lengthAdjust="spacingAndGlyphs" transform="matrix(1 0 0 0.6 250.3 387)">T</text>
<text class="b" textLength="11" lengthAdjust="spacingAndGlyphs" transform="matrix(1 0 0 0.3 261.7 393)">R</text>
<text class="g" textLength="11" lengthAdjust="spacingAndGlyphs" transform="matrix(1 0 0 0.5 261.7 390)">S</text>
<text class="m" textLength="11" lengthAdjust="spacingAndGlyphs" transform="matrix(1 0 0 0.5 261.7 385)">Q</text>
<text class="g" textLength="11" lengthAdjust="spacingAndGlyphs" transform="matrix(1 0 0 0.3 273.1 393)">S</text>
<text class="k" textLength="11" lengthAdjust="spacingAndGlyphs" transform="matrix(1 0 0 0.6 273.1 390)">V</text>
<text class="g" textLength="11" lengthAdjust="spacingAndGlyphs" transform="matrix(1 0 0 0.9 284.4 393)">Y</text>
<text class="b" textLength="11" lengthAdjust="spacingAndGlyphs" transform="matrix(1 0 0 1.8 284.4 384)">H</text>
<text class="g" textLength="11" lengthAdjust="spacingAndGlyphs" transform="matrix(1 0 0 0.2 295.8 393)">S</text>
<text class="r" textLength="11" lengthAdjust="spacingAndGlyphs" transform="matrix(1 0 0 0.6 295.8 391)">E</text>
<text class="k" textLength="11" lengthAdjust="spacingAndGlyphs" transform="matrix(1 0 0 1.3 295.8 385)">P</text>
<text class="r" textLength="11" lengthAdjust="spacingAndGlyphs" transform="matrix(1 0 0 0.4 307.2 393)">E</text>
<text class="g" textLength="11" lengthAdjust="spacingAndGlyphs" transform="matrix(1 0 0 0.4 307.2 389)">S</text>
<text class="b" textLength="11" lengthAdjust="spacingAndGlyphs" transform="matrix(1 0 0 2.0 307.2 385)">H</text>
<text class="b" textLength="11" lengthAdjust="spacingAndGlyphs" transform="matrix(1 0 0 0.3 318.5 393)">R</text>
<text class="b" textLength="11" lengthAdjust="spacingAndGlyphs" transform="matrix(1 0 0 0.7 318.5 390)">K</text>
</g>

<!-- pi -->
<g id="logo-pi" class="lg">
<text class="g" textLength="11" lengthAdjust="spacingAndGlyphs" transform="matrix(1 0 0 4.2 102.5 457)">G</text>
<text class="k" textLength="11" lengthAdjust="spacingAndGlyphs" transform="matrix(1 0 0 3.8 113.9 457)">P</text>
<text class="k" textLength="11" lengthAdjust="spacingAndGlyphs" transform="matrix(1 0 0 0.5 125.2 457)">A</text>
<text class="g" textLength="11" lengthAdjust="spacingAndGlyphs" transform="matrix(1 0 0 1.2 125.2 452)">T</text>
<text class="m" textLength="11" lengthAdjust="spacingAndGlyphs" transform="matrix(1 0 0 4.2 136.6 457)">N</text>
<text class="k" textLength="11" lengthAdjust="spacingAndGlyphs" transform="matrix(1 0 0 3.8 159.4 457)">L</text>
<text class="b" textLength="11" lengthAdjust="spacingAndGlyphs" transform="matrix(1 0 0 4.2 170.7 457)">K</text>
<text class="g" textLength="11" lengthAdjust="spacingAndGlyphs" transform="matrix(1 0 0 4.2 182.1 457)">C</text>
<text class="k" textLength="11" lengthAdjust="spacingAndGlyphs" transform="matrix(1 0 0 4.2 193.5 457)">W</text>
<text class="b" textLength="11" lengthAdjust="spacingAndGlyphs" transform="matrix(1 0 0 4.2 204.8 457)">R</text>
<text class="m" textLength="11" lengthAdjust="spacingAndGlyphs" transform="matrix(1 0 0 4.2 216.2 457)">N</text>
<text class="b" textLength="11" lengthAdjust="spacingAndGlyphs" transform="matrix(1 0 0 3.8 227.6 457)">R</text>
<text class="k" textLength="11" lengthAdjust="spacingAndGlyphs" transform="matrix(1 0 0 0.8 238.9 457)">V</text>
<text class="k" textLength="11" lengthAdjust="spacingAndGlyphs" transform="matrix(1 0 0 1.3 238.9 449)">L</text>
<text class="b" textLength="11" lengthAdjust="spacingAndGlyphs" transform="matrix(1 0 0 0.8 250.3 457)">K</text>
<text class="b" textLength="11" lengthAdjust="spacingAndGlyphs" transform="matrix(1 0 0 2.0 250.3 449)">R</text>
<text class="b" textLength="11" lengthAdjust="spacingAndGlyphs" transform="matrix(1 0 0 4.2 261.7 457)">R</text>
<text class="b" textLength="11" lengthAdjust="spacingAndGlyphs" transform="matrix(1 0 0 4.2 273.1 457)">R</text>
<text class="b" textLength="11" lengthAdjust="spacingAndGlyphs" transform="matrix(1 0 0 0.3 295.8 456)">K</text>
<text class="b" textLength="11" lengthAdjust="spacingAndGlyphs" transform="matrix(1 0 0 0.9 307.2 457)">K</text>
<text class="b" textLength="11" lengthAdjust="spacingAndGlyphs" transform="matrix(1 0 0 1.3 307.2 448)">R</text>
<text class="k" textLength="11" lengthAdjust="spacingAndGlyphs" transform="matrix(1 0 0 3.0 318.5 457)">P</text>
</g>

<!-- upsilon -->
<g id="logo-upsilon" class="lg">
<text class="g" textLength="11" lengthAdjust="spacingAndGlyphs" transform="matrix(1 0 0 4.7 102.5 522)">G</text>
<text class="k" textLength="11" lengthAdjust="spacingAndGlyphs" transform="matrix(1 0 0 0.6 113.9 522)">P</text>
<text class="g" textLength="11" lengthAdjust="spacingAndGlyphs" transform="matrix(1 0 0 3.2 113.9 516)">G</text>
<text class="k" textLength="11" lengthAdjust="spacingAndGlyphs" transform="matrix(1 0 0 0.8 125.2 522)">P</text>
<text class="k" textLength="11" lengthAdjust="spacingAndGlyphs" transform="matrix(1 0 0 2.0 125.2 514)">A</text>
<text class="m" textLength="11" lengthAdjust="spacingAndGlyphs" transform="matrix(1 0 0 4.1 136.6 521)">N</text>
<text class="m" textLength="11" lengthAdjust="spacingAndGlyphs" transform="matrix(1 0 0 0.6 148 522)">N</text>
<text class="m" textLength="11" lengthAdjust="spacingAndGlyphs" transform="matrix(1 0 0 1.5 148 515)">Q</text>
<text class="k" textLength="11" lengthAdjust="spacingAndGlyphs" transform="matrix(1 0 0 4.0 159.4 522)">V</text>
<text class="b" textLength="11" lengthAdjust="spacingAndGlyphs" transform="matrix(1 0 0 4.2 170.7 522)">K</text>
<text class="g" textLength="11" lengthAdjust="spacingAndGlyphs" transform="matrix(1 0 0 4.2 182.1 522)">C</text>
<text class="g" textLength="11" lengthAdjust="spacingAndGlyphs" transform="matrix(1 0 0 0.6 193.5 522)">S</text>
<text class="k" textLength="11" lengthAdjust="spacingAndGlyphs" transform="matrix(1 0 0 1.2 193.5 516)">L</text>
<text class="b" textLength="11" lengthAdjust="spacingAndGlyphs" transform="matrix(1 0 0 3.9 204.8 522)">R</text>
<text class="g" textLength="11" lengthAdjust="spacingAndGlyphs" transform="matrix(1 0 0 0.2 216.2 522)">Y</text>
<text class="k" textLength="11" lengthAdjust="spacingAndGlyphs" transform="matrix(1 0 0 0.5 216.2 520)">W</text>
<text class="b" textLength="11" lengthAdjust="spacingAndGlyphs" transform="matrix(1 0 0 1.5 216.2 515)">H</text>
<text class="b" textLength="11" lengthAdjust="spacingAndGlyphs" transform="matrix(1 0 0 1.2 227.6 522)">K</text>
<text class="b" textLength="11" lengthAdjust="spacingAndGlyphs" transform="matrix(1 0 0 1.3 227.6 510)">R</text>
<text class="k" textLength="11" lengthAdjust="spacingAndGlyphs" transform="matrix(1 0 0 4.2 238.9 522)">L</text>
<text class="b" textLength="11" lengthAdjust="spacingAndGlyphs" transform="matrix(1 0 0 3.4 250.3 521)">K</text>
<text class="m" textLength="11" lengthAdjust="spacingAndGlyphs" transform="matrix(1 0 0 0.3 261.7 522)">S</text>
<text class="b" textLength="11" lengthAdjust="spacingAndGlyphs" transform="matrix(1 0 0 0.4 261.7 519)">R</text>
<text class="k" textLength="11" lengthAdjust="spacingAndGlyphs" transform="matrix(1 0 0 0.7 261.7 515)">V</text>
<text class="b" textLength="11" lengthAdjust="spacingAndGlyphs" transform="matrix(1 0 0 0.8 273.1 522)">K</text>
<text class="m" textLength="11" lengthAdjust="spacingAndGlyphs" transform="matrix(1 0 0 1.0 273.1 514)">Q</text>
<text class="g" textLength="11" lengthAdjust="spacingAndGlyphs" transform="matrix(1 0 0 0.6 284.4 522)">Y</text>
<text class="b" textLength="11" lengthAdjust="spacingAndGlyphs" transform="matrix(1 0 0 1.0 284.4 516)">H</text>
<text class="r" textLength="11" lengthAdjust="spacingAndGlyphs" transform="matrix(1 0 0 0.6 307.2 522)">D</text>
<text class="g" textLength="11" lengthAdjust="spacingAndGlyphs" transform="matrix(1 0 0 3.0 307.2 516)">G</text>
<text class="g" textLength="11" lengthAdjust="spacingAndGlyphs" transform="matrix(1 0 0 0.6 318.5 522)">T</text>
<text class="k" textLength="11" lengthAdjust="spacingAndGlyphs" transform="matrix(1 0 0 1.2 318.5 516)">L</text>
</g>

<!-- chi -->
<g id="logo-chi" class="lg">
<text class="g" textLength="11" lengthAdjust="spacingAndGlyphs" transform="matrix(1 0 0 4.7 102.5 588)">G</text>
<text class="k" textLength="11" lengthAdjust="spacingAndGlyphs" transform="matrix(1 0 0 4.5 113.9 588)">P</text>
<text class="g" textLength="11" lengthAdjust="spacingAndGlyphs" transform="matrix(1 0 0 0.3 125.2 588)">S</text>
<text class="k" textLength="11" lengthAdjust="spacingAndGlyphs" transform="matrix(1 0 0 0.4 125.2 585)">C</text>
<text class="g" textLength="11" lengthAdjust="spacingAndGlyphs" transform="matrix(1 0 0 1.0 125.2 581)">C</text>
<text class="m" textLength="11" lengthAdjust="spacingAndGlyphs" transform="matrix(1 0 0 4.5 136.6 588)">N</text>
<text class="k" textLength="11" lengthAdjust="spacingAndGlyphs" transform="matrix(1 0 0 0.7 148 588)">V</text>
<text class="g" textLength="11" lengthAdjust="spacingAndGlyphs" transform="matrix(1 0 0 2.8 148 581)">T</text>
<text class="k" textLength="11" lengthAdjust="spacingAndGlyphs" transform="matrix(1 0 0 4.5 159.4 588)">L</text>
<text class="b" textLength="11" lengthAdjust="spacingAndGlyphs" transform="matrix(1 0 0 4.5 170.7 588)">K</text>
<text class="g" textLength="11" lengthAdjust="spacingAndGlyphs" transform="matrix(1 0 0 4.5 182.1 588)">C</text>
<text class="g" textLength="11" lengthAdjust="spacingAndGlyphs" transform="matrix(1 0 0 0.3 193.5 588)">Y</text>
<text class="k" textLength="11" lengthAdjust="spacingAndGlyphs" transform="matrix(1 0 0 0.4 193.5 585)">L</text>
<text class="k" textLength="11" lengthAdjust="spacingAndGlyphs" transform="matrix(1 0 0 1.4 193.5 581)">F</text>
<text class="b" textLength="11" lengthAdjust="spacingAndGlyphs" transform="matrix(1 0 0 4.5 204.8 588)">R</text>
<text class="g" textLength="11" lengthAdjust="spacingAndGlyphs" transform="matrix(1 0 0 4.5 216.2 588)">Y</text>
<text class="b" textLength="11" lengthAdjust="spacingAndGlyphs" transform="matrix(1 0 0 4.5 227.6 588)">R</text>
<text class="k" textLength="11" lengthAdjust="spacingAndGlyphs" transform="matrix(1 0 0 1.0 238.9 588)">C</text>
<text class="k" textLength="11" lengthAdjust="spacingAndGlyphs" transform="matrix(1 0 0 1.0 238.9 578)">A</text>
<text class="g" textLength="11" lengthAdjust="spacingAndGlyphs" transform="matrix(1 0 0 0.3 250.3 588)">S</text>
<text class="m" textLength="11" lengthAdjust="spacingAndGlyphs" transform="matrix(1 0 0 0.4 250.3 585)">E</text>
<text class="b" textLength="11" lengthAdjust="spacingAndGlyphs" transform="matrix(1 0 0 1.3 250.3 581)">K</text>
<text class="g" textLength="11" lengthAdjust="spacingAndGlyphs" transform="matrix(1 0 0 0.3 261.7 588)">G</text>
<text class="b" textLength="11" lengthAdjust="spacingAndGlyphs" transform="matrix(1 0 0 0.4 261.7 585)">H</text>
<text class="m" textLength="11" lengthAdjust="spacingAndGlyphs" transform="matrix(1 0 0 0.6 261.7 581)">Q</text>
<text class="g" textLength="11" lengthAdjust="spacingAndGlyphs" transform="matrix(1 0 0 0.3 273.1 588)">S</text>
<text class="m" textLength="11" lengthAdjust="spacingAndGlyphs" transform="matrix(1 0 0 0.3 273.1 585)">P</text>
<text class="g" textLength="11" lengthAdjust="spacingAndGlyphs" transform="matrix(1 0 0 0.4 284.4 588)">G</text>
<text class="g" textLength="11" lengthAdjust="spacingAndGlyphs" transform="matrix(1 0 0 0.3 284.4 584)">S</text>
<text class="b" textLength="11" lengthAdjust="spacingAndGlyphs" transform="matrix(1 0 0 1.5 284.4 581)">H</text>
<text class="g" textLength="11" lengthAdjust="spacingAndGlyphs" transform="matrix(1 0 0 0.2 295.8 588)">E</text>
<text class="b" textLength="11" lengthAdjust="spacingAndGlyphs" transform="matrix(1 0 0 0.6 295.8 586)">H</text>
<text class="b" textLength="11" lengthAdjust="spacingAndGlyphs" transform="matrix(1 0 0 1.0 295.8 580)">R</text>
<text class="g" textLength="11" lengthAdjust="spacingAndGlyphs" transform="matrix(1 0 0 0.3 307.2 588)">S</text>
<text class="b" textLength="11" lengthAdjust="spacingAndGlyphs" transform="matrix(1 0 0 0.6 307.2 585)">H</text>
<text class="g" textLength="11" lengthAdjust="spacingAndGlyphs" transform="matrix(1 0 0 1.6 307.2 579)">G</text>
<text class="b" textLength="11" lengthAdjust="spacingAndGlyphs" transform="matrix(1 0 0 0.3 318.5 588)">S</text>
<text class="g" textLength="11" lengthAdjust="spacingAndGlyphs" transform="matrix(1 0 0 0.4 318.5 585)">T</text>
<text class="k" textLength="11" lengthAdjust="spacingAndGlyphs" transform="matrix(1 0 0 1.2 318.5 581)">L</text>
</g>

<!-- Panel B: strands -->
<g id="strand-left">
<line class="bb" x1="514" y1="53" x2="514" y2="577"/>
<circle class="nt" cx="514" cy="70.5" r="7.5"/><circle class="nt" cx="514" cy="100.6" r="7.5"/><circle class="nt" cx="514" cy="130.7" r="7.5"/><circle class="nt" cx="514" cy="160.8" r="7.5"/><circle class="nt" cx="514" cy="190.9" r="7.5"/><circle class="nt" cx="514" cy="221" r="7.5"/><circle class="nt" cx="514" cy="251.1" r="7.5"/><circle class="nt" cx="514" cy="281.2" r="7.5"/><circle class="nt" cx="514" cy="311.3" r="7.5"/><circle class="nt" cx="514" cy="341.4" r="7.5"/><circle class="nt" cx="514" cy="371.5" r="7.5"/><circle class="nt" cx="514" cy="401.6" r="7.5"/><circle class="nt" cx="514" cy="431.7" r="7.5"/><circle class="nt" cx="514" cy="461.8" r="7.5"/><circle class="nt" cx="514" cy="491.9" r="7.5"/><circle class="nt" cx="514" cy="522" r="7.5"/><circle class="nt" cx="514" cy="552.1" r="7.5"/>
<text class="pr" x="526" y="60">5′</text>
<text class="pr" x="526" y="578">3′</text>
</g>
<g id="strand-right">
<line class="bb" x1="675" y1="53" x2="675" y2="577"/>
<circle class="nt" cx="675" cy="70.5" r="7.5"/><circle class="nt" cx="675" cy="100.6" r="7.5"/><circle class="nt" cx="675" cy="130.7" r="7.5"/><circle class="nt" cx="675" cy="160.8" r="7.5"/><circle class="nt" cx="675" cy="190.9" r="7.5"/><circle class="nt" cx="675" cy="221" r="7.5"/><circle class="nt" cx="675" cy="251.1" r="7.5"/><circle class="nt" cx="675" cy="281.2" r="7.5"/><circle class="nt" cx="675" cy="311.3" r="7.5"/><circle class="nt" cx="675" cy="341.4" r="7.5"/><circle class="nt" cx="675" cy="371.5" r="7.5"/><circle class="nt" cx="675" cy="401.6" r="7.5"/><circle class="nt" cx="675" cy="431.7" r="7.5"/><circle class="nt" cx="675" cy="461.8" r="7.5"/><circle class="nt" cx="675" cy="491.9" r="7.5"/><circle class="nt" cx="675" cy="522" r="7.5"/><circle class="nt" cx="675" cy="552.1" r="7.5"/>
<text class="pr" x="656" y="60">3′</text>
<text class="pr" x="656" y="578">5′</text>
</g>

<!-- left bases -->
<g id="lb1"><rect class="bx" x="530" y="74.5" width="46" height="22"/><text class="bt" x="553" y="91">N</text></g>
<g id="lb2"><rect class="bx" x="530" y="104.6" width="46" height="22"/><text class="bt" x="553" y="121.1">N</text></g>
<g id="lb3"><rect class="bx" x="530" y="134.7" width="46" height="22"/><text class="bt" x="553" y="151.2">A</text></g>
<g id="lb4"><rect class="bx" x="530" y="164.8" width="46" height="22"/><text class="bt" x="553" y="181.3">C</text></g>
<g id="lb5"><rect class="bx" x="530" y="194.9" width="46" height="22"/><text class="bt" x="553" y="211.4">C</text></g>
<g id="lb6"><rect class="bx" x="530" y="225" width="46" height="22"/><text class="bt" x="553" y="241.5">G</text></g>
<g id="lb7"><rect class="bx" x="530" y="255.1" width="46" height="22"/><text class="bt" x="553" y="271.6">N</text></g>
<g id="lb8"><rect class="bx" x="530" y="285.2" width="46" height="22"/><text class="bt" x="553" y="301.7">N</text></g>
<g id="lb9"><rect class="bx" x="530" y="315.3" width="46" height="22"/><text class="bt" x="553" y="331.8">N</text></g>
<g id="lb10"><rect class="bx" x="530" y="345.4" width="46" height="22"/><text class="bt" x="553" y="361.9">N</text></g>
<g id="lb11"><rect class="bx" x="530" y="375.5" width="46" height="22"/><text class="bt" x="553" y="392">C</text></g>
<g id="lb12"><rect class="bx" x="530" y="405.6" width="46" height="22"/><text class="bt" x="553" y="422.1">G</text></g>
<g id="lb13"><rect class="bx" x="530" y="435.7" width="46" height="22"/><text class="bt" x="553" y="452.2">G</text></g>
<g id="lb14"><rect class="bx" x="530" y="465.8" width="46" height="22"/><text class="bt" x="553" y="482.3">T</text></g>
<g id="lb15"><rect class="bx" x="530" y="495.9" width="46" height="22"/><text class="bt" x="553" y="512.4">N</text></g>
<g id="lb16"><rect class="bx" x="530" y="526" width="46" height="22"/><text class="bt" x="553" y="542.5">N</text></g>

<!-- right bases -->
<g id="rb1"><rect class="bx" x="613.5" y="74.5" width="46" height="22"/><text class="bt" x="636.5" y="91">N</text></g>
<g id="rb2"><rect class="bx" x="613.5" y="104.6" width="46" height="22"/><text class="bt" x="636.5" y="121.1">N</text></g>
<g id="rb3"><rect class="bx" x="613.5" y="134.7" width="46" height="22"/><text class="bt" x="636.5" y="151.2">T</text></g>
<g id="rb4"><rect class="bx" x="613.5" y="164.8" width="46" height="22"/><text class="bt" x="636.5" y="181.3">G</text></g>
<g id="rb5"><rect class="bx" x="613.5" y="194.9" width="46" height="22"/><text class="bt" x="636.5" y="211.4">G</text></g>
<g id="rb6"><rect class="bx" x="613.5" y="225" width="46" height="22"/><text class="bt" x="636.5" y="241.5">C</text></g>
<g id="rb7"><rect class="bx" x="613.5" y="255.1" width="46" height="22"/><text class="bt" x="636.5" y="271.6">N</text></g>
<g id="rb8"><rect class="bx" x="613.5" y="285.2" width="46" height="22"/><text class="bt" x="636.5" y="301.7">N</text></g>
<g id="rb9"><rect class="bx" x="613.5" y="315.3" width="46" height="22"/><text class="bt" x="636.5" y="331.8">N</text></g>
<g id="rb10"><rect class="bx" x="613.5" y="345.4" width="46" height="22"/><text class="bt" x="636.5" y="361.9">N</text></g>
<g id="rb11"><rect class="bx" x="613.5" y="375.5" width="46" height="22"/><text class="bt" x="636.5" y="392">G</text></g>
<g id="rb12"><rect class="bx" x="613.5" y="405.6" width="46" height="22"/><text class="bt" x="636.5" y="422.1">C</text></g>
<g id="rb13"><rect class="bx" x="613.5" y="435.7" width="46" height="22"/><text class="bt" x="636.5" y="452.2">C</text></g>
<g id="rb14"><rect class="bx" x="613.5" y="465.8" width="46" height="22"/><text class="bt" x="636.5" y="482.3">A</text></g>
<g id="rb15"><rect class="bx" x="613.5" y="495.9" width="46" height="22"/><text class="bt" x="636.5" y="512.4">N</text></g>
<g id="rb16"><rect class="bx" x="613.5" y="526" width="46" height="22"/><text class="bt" x="636.5" y="542.5">N</text></g>

<!-- residue labels -->
<g id="lab-R12-top"><text class="lb cb" x="393" y="82">R12</text></g>
<g id="lab-Q5-top"><text class="lb cm" x="392" y="124">Q5</text></g>
<g id="lab-C8-topL"><text class="lb cg" x="393" y="160">C8</text></g>
<g id="lab-N4-top"><text class="lb cm" x="387" y="208">N4</text></g>
<g id="lab-F11-top"><text class="lb ck" x="726" y="141">F11</text></g>
<g id="lab-C8-topR"><text class="lb cg" x="769" y="144">C8</text></g>
<g id="lab-K7-top"><text class="lb cb" x="759" y="170">K7</text></g>
<g id="lab-R10-top"><text class="lb cb" x="732" y="214">R10</text></g>
<g id="lab-R10-bot"><text class="lb cb" x="422" y="421">R10</text></g>
<g id="lab-K7-bot"><text class="lb cb" x="424" y="465">K7</text></g>
<g id="lab-C8-botL"><text class="lb cg" x="397" y="488">C8</text></g>
<g id="lab-F11-bot"><text class="lb ck" x="441" y="495">F11</text></g>
<g id="lab-N4-bot"><text class="lb cm" x="724" y="422">N4</text></g>
<g id="lab-C8-botR"><text class="lb cg" x="731" y="478">C8</text></g>
<g id="lab-Q5-bot"><text class="lb cm" x="727" y="505">Q5</text></g>
<g id="lab-R12-bot"><text class="lb cb" x="751" y="555">R12</text></g>

<g id="connectors">
<line class="s d sb" x1="447" y1="77" x2="505" y2="97" marker-end="url(#ab)"/>
<line class="s sb" x1="428" y1="88" x2="540" y2="117" marker-end="url(#ab)"/>
<line class="s d sm" x1="428" y1="123" x2="507" y2="133" marker-end="url(#am)"/>
<line class="s sg" x1="432" y1="149" x2="543" y2="142" marker-end="url(#ag)"/>
<line class="s sm" x1="423" y1="194" x2="542" y2="148" marker-end="url(#am)"/>
<line class="s d sm" x1="423" y1="197" x2="507" y2="170" marker-end="url(#am)"/>
<line class="s sm" x1="427" y1="201" x2="545" y2="172" marker-end="url(#am)"/>
<line class="s sk" x1="720" y1="136" x2="645" y2="141" marker-end="url(#ak)"/>
<line class="s sg" x1="767" y1="136" x2="648" y2="152" marker-end="url(#ag)"/>
<line class="s sg" x1="765" y1="145" x2="657" y2="175" marker-end="url(#ag)"/>
<line class="s sb" x1="750" y1="158" x2="642" y2="177" marker-end="url(#ab)"/>
<line class="s sb" x1="750" y1="165" x2="643" y2="203" marker-end="url(#ab)"/>
<line class="s d sb" x1="727" y1="200" x2="685" y2="193" marker-end="url(#ab)"/>
<line class="s d sb" x1="727" y1="217" x2="682" y2="221" marker-end="url(#ab)"/>
<line class="s d sb" x1="467" y1="407" x2="505" y2="406" marker-end="url(#ab)"/>
<line class="s d sb" x1="468" y1="419" x2="505" y2="433" marker-end="url(#ab)"/>
<line class="s sb" x1="458" y1="453" x2="547" y2="415" marker-end="url(#ab)"/>
<line class="s sb" x1="462" y1="455" x2="550" y2="444" marker-end="url(#ab)"/>
<line class="s sg" x1="430" y1="474" x2="540" y2="451" marker-end="url(#ag)"/>
<line class="s sg" x1="432" y1="478" x2="543" y2="470" marker-end="url(#ag)"/>
<line class="s sk" x1="483" y1="485" x2="545" y2="473" marker-end="url(#ak)"/>
<line class="s sm" x1="712" y1="415" x2="642" y2="440" marker-end="url(#am)"/>
<line class="s sm" x1="712" y1="423" x2="642" y2="473" marker-end="url(#am)"/>
<line class="s d sm" x1="718" y1="433" x2="682" y2="460" marker-end="url(#am)"/>
<line class="s sg" x1="725" y1="477" x2="643" y2="483" marker-end="url(#ag)"/>
<line class="s d sm" x1="727" y1="497" x2="683" y2="496" marker-end="url(#am)"/>
<line class="s sb" x1="748" y1="537" x2="642" y2="503" marker-end="url(#ab)"/>
<line class="s d sb" x1="747" y1="548" x2="687" y2="530" marker-end="url(#ab)"/>
</g>
</svg>
